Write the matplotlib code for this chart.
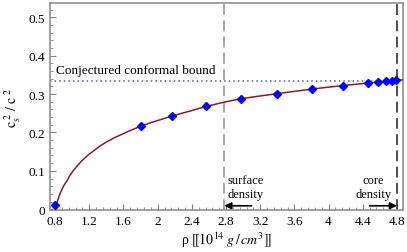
import numpy as np
import matplotlib.pyplot as plt
from matplotlib.ticker import MultipleLocator

plt.rcParams['font.family'] = ['Liberation Serif', 'DejaVu Serif']
plt.rcParams['mathtext.fontset'] = 'stix'

# smooth fitted curve
curve_rho = [0.8, 0.81, 0.82, 0.83, 0.845, 0.86, 0.88, 0.90, 0.92, 0.94,
             0.97, 1.01, 1.07, 1.13, 1.19, 1.25, 1.32, 1.40, 1.50, 1.60,
             1.70, 1.80, 1.90, 2.0, 2.17, 2.4, 2.57, 2.8, 2.98, 3.2, 3.40,
             3.6, 3.81, 4.0, 4.17, 4.47, 4.7, 4.87]
curve_cs2 = [0.002, 0.009, 0.016, 0.023, 0.033, 0.042, 0.052, 0.061, 0.068,
             0.075, 0.087, 0.100, 0.116, 0.130, 0.142, 0.152, 0.164, 0.175,
             0.187, 0.197, 0.207, 0.216, 0.224, 0.231, 0.243, 0.257, 0.268,
             0.280, 0.288, 0.295, 0.301, 0.307, 0.313, 0.318, 0.322, 0.329,
             0.333, 0.337]

# data points (diamonds)
pts_rho = [0.8, 1.806, 2.168, 2.566, 2.975, 3.396, 3.806, 4.165, 4.465,
           4.58, 4.67, 4.745, 4.795]
pts_cs2 = [0.012, 0.217, 0.243, 0.269, 0.288, 0.301, 0.313, 0.322, 0.329,
           0.331, 0.333, 0.335, 0.336]

conformal = 1/3
surface_rho = 2.78
core_rho = 4.8

fig = plt.figure(figsize=(4.07, 2.53), dpi=100)
ax = fig.add_axes([0.1229, 0.166, 0.867, 0.818])

ax.plot(curve_rho, curve_cs2, color='#8b1a2a', lw=1.1, zorder=3)
ax.plot(pts_rho, pts_cs2, 'D', color='#0000ff', ms=3.8, zorder=4)

ax.axhline(conformal, color='#4a5ac0', ls=(0, (1, 2)), lw=1.1, zorder=2)
ax.text(0.81, 0.347, 'Conjectured conformal bound', fontsize=9.5,
        va='bottom', ha='left')

ax.axvline(surface_rho, color='#a0a0a0', ls=(0, (6, 3)), lw=1.3)
ax.axvline(core_rho, color='#404040', ls=(0, (6, 3)), lw=1.3)

ax.annotate('', xy=(surface_rho, 0.009), xytext=(3.10, 0.009),
            arrowprops=dict(arrowstyle='-|>', color='black', lw=1.2,
                            mutation_scale=10, shrinkA=0, shrinkB=0))
ax.annotate('', xy=(core_rho, 0.009), xytext=(4.48, 0.009),
            arrowprops=dict(arrowstyle='-|>', color='black', lw=1.2,
                            mutation_scale=10, shrinkA=0, shrinkB=0))
ax.text(2.82, 0.058, 'surface\ndensity', fontsize=9, ha='left', va='center',
        linespacing=1.2)
ax.text(4.74, 0.058, 'core\ndensity', fontsize=9, ha='right', va='center',
        linespacing=1.2, multialignment='center')

ax.set_xlim(0.74, 4.87)
ax.set_ylim(-0.002, 0.537)
ax.set_xticks([0.8, 1.2, 1.6, 2, 2.4, 2.8, 3.2, 3.6, 4, 4.4, 4.8])
ax.set_xticklabels(['0.8', '1.2', '1.6', '2', '2.4', '2.8', '3.2', '3.6',
                    '4', '4.4', '4.8'])
ax.set_yticks([0, 0.1, 0.2, 0.3, 0.4, 0.5])
ax.set_yticklabels(['0', '0.1', '0.2', '0.3', '0.4', '0.5'])
ax.xaxis.set_minor_locator(MultipleLocator(0.08))
ax.yaxis.set_minor_locator(MultipleLocator(0.02))
ax.tick_params(which='both', direction='in', labelsize=9.5, color='#808080')
ax.tick_params(which='major', length=4)
ax.tick_params(which='minor', length=2)

for s in ax.spines.values():
    s.set_color('#909090')
    s.set_linewidth(1.2)

ax.set_xlabel(r'ρ $[\![10^{14}\ g\,/\,cm^{3}]\!]$', fontsize=10, labelpad=2)
ax.set_ylabel(r'$\mathrm{c_s^{\ 2}\ /\ c^{\ 2}}$', fontsize=10, labelpad=4)

fig.savefig('out.png', dpi=100)
